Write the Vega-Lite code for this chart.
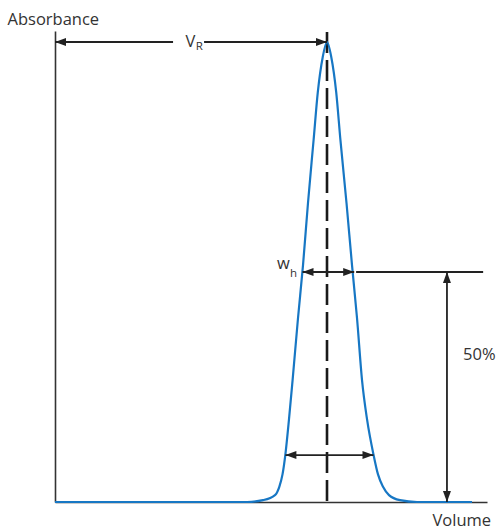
{
  "$schema": "https://vega.github.io/schema/vega-lite/v6.json",
  "width": 432,
  "height": 471,
  "autosize": {"type": "none"},
  "padding": {"left": 55, "top": 31, "right": 13, "bottom": 27},
  "background": "white",
  "config": {
    "view": {"stroke": null},
    "font": "Open Sans",
    "text": {"font": "Open Sans", "color": "#333333"}
  },
  "encoding": {
    "x": {
      "field": "volume", "type": "quantitative",
      "scale": {"domain": [0, 158.82], "nice": false, "zero": false},
      "axis": {
        "title": "Volume", "domain": true, "domainColor": "#333333", "domainWidth": 1.6,
        "ticks": false, "labels": false, "grid": false,
        "titleX": 377, "titleY": 23, "titleAlign": "left", "titleBaseline": "alphabetic",
        "titleFont": "Open Sans", "titleFontSize": 16.5, "titleFontWeight": "normal", "titleColor": "#333333"
      }
    },
    "y": {
      "field": "absorbance", "type": "quantitative",
      "scale": {"domain": [0, 1.0239], "nice": false, "zero": false},
      "axis": {
        "title": "Absorbance", "domain": true, "domainColor": "#333333", "domainWidth": 1.6,
        "ticks": false, "labels": false, "grid": false,
        "titleAngle": 0, "titleX": -48, "titleY": -7, "titleAlign": "left", "titleBaseline": "alphabetic",
        "titleFont": "Open Sans", "titleFontSize": 16.5, "titleFontWeight": "normal", "titleColor": "#333333"
      }
    }
  },
  "layer": [
    {
      "data": {"values": [
        {"volume": 100, "absorbance": 1.0217, "volume2": 100, "absorbance2": 0}
      ]},
      "mark": {"type": "rule", "color": "#1a1a1a", "strokeWidth": 2.6, "strokeDash": [21, 7]},
      "encoding": {
        "x2": {"field": "volume2"},
        "y2": {"field": "absorbance2"}
      }
    },
    {
      "data": {"values": [
        {"volume": 0, "absorbance": 0},
        {"volume": 70.59, "absorbance": 0},
        {"volume": 76.47, "absorbance": 0.004},
        {"volume": 80.88, "absorbance": 0.015},
        {"volume": 82.46, "absorbance": 0.033},
        {"volume": 83.64, "absorbance": 0.06},
        {"volume": 84.67, "absorbance": 0.102},
        {"volume": 86.03, "absorbance": 0.18},
        {"volume": 87.35, "absorbance": 0.265},
        {"volume": 89.34, "absorbance": 0.4},
        {"volume": 91.18, "absorbance": 0.515},
        {"volume": 93.01, "absorbance": 0.65},
        {"volume": 95.07, "absorbance": 0.787},
        {"volume": 96.62, "absorbance": 0.891},
        {"volume": 98.42, "absorbance": 0.967},
        {"volume": 100, "absorbance": 1.0},
        {"volume": 101.58, "absorbance": 0.967},
        {"volume": 103.38, "absorbance": 0.891},
        {"volume": 104.93, "absorbance": 0.787},
        {"volume": 107.17, "absorbance": 0.65},
        {"volume": 109.19, "absorbance": 0.515},
        {"volume": 111.03, "absorbance": 0.4},
        {"volume": 112.87, "absorbance": 0.265},
        {"volume": 114.71, "absorbance": 0.18},
        {"volume": 117.13, "absorbance": 0.102},
        {"volume": 118.75, "absorbance": 0.06},
        {"volume": 120.59, "absorbance": 0.033},
        {"volume": 122.79, "absorbance": 0.015},
        {"volume": 126.84, "absorbance": 0.004},
        {"volume": 133.09, "absorbance": 0},
        {"volume": 153.3, "absorbance": 0}
      ]},
      "mark": {"type": "line", "color": "#1777c4", "strokeWidth": 2.2, "interpolate": "monotone"}
    },
    {
      "data": {"values": [
        {"volume": 0, "absorbance": 1.0, "volume2": 43.4, "absorbance2": 1.0},
        {"volume": 54.8, "absorbance": 1.0, "volume2": 100, "absorbance2": 1.0},
        {"volume": 91.0, "absorbance": 0.5, "volume2": 110.0, "absorbance2": 0.5},
        {"volume": 110.7, "absorbance": 0.5, "volume2": 157.4, "absorbance2": 0.5},
        {"volume": 144.1, "absorbance": 0.5, "volume2": 144.1, "absorbance2": 0},
        {"volume": 84.7, "absorbance": 0.102, "volume2": 117.1, "absorbance2": 0.102}
      ]},
      "mark": {"type": "rule", "color": "#222222", "strokeWidth": 1.8},
      "encoding": {
        "x2": {"field": "volume2"},
        "y2": {"field": "absorbance2"}
      }
    },
    {
      "data": {"values": [
        {"volume": 0, "absorbance": 1.0, "dir": "left"},
        {"volume": 100, "absorbance": 1.0, "dir": "right"},
        {"volume": 91.0, "absorbance": 0.5, "dir": "left"},
        {"volume": 110.0, "absorbance": 0.5, "dir": "right"},
        {"volume": 144.1, "absorbance": 0.5, "dir": "up"},
        {"volume": 144.1, "absorbance": 0, "dir": "down"},
        {"volume": 84.7, "absorbance": 0.102, "dir": "left"},
        {"volume": 117.1, "absorbance": 0.102, "dir": "right"}
      ]},
      "mark": {"type": "point", "filled": true, "opacity": 1, "color": "#222222", "size": 100, "strokeWidth": 0},
      "encoding": {
        "shape": {
          "field": "dir", "type": "nominal", "legend": null,
          "scale": {
            "domain": ["left", "right", "up", "down"],
            "range": ["M0,0L2.2,-0.8L2.2,0.8Z", "M0,0L-2.2,-0.8L-2.2,0.8Z", "M0,0L-0.8,2.2L0.8,2.2Z", "M0,0L-0.8,-2.2L0.8,-2.2Z"]
          }
        }
      }
    },
    {
      "data": {"values": [
        {"volume": 51.6, "absorbance": 0.989, "label": "V"},
        {"volume": 86.3, "absorbance": 0.5065, "label": "w"}
      ]},
      "mark": {"type": "text", "fontSize": 16.5, "align": "right", "baseline": "alphabetic"},
      "encoding": {"text": {"field": "label"}}
    },
    {
      "data": {"values": [
        {"volume": 150.0, "absorbance": 0.3087, "label": "50%"}
      ]},
      "mark": {"type": "text", "fontSize": 16.5, "align": "left", "baseline": "alphabetic"},
      "encoding": {"text": {"field": "label"}}
    },
    {
      "data": {"values": [
        {"volume": 51.7, "absorbance": 0.983, "label": "R"},
        {"volume": 86.4, "absorbance": 0.489, "label": "h"}
      ]},
      "mark": {"type": "text", "fontSize": 11.5, "align": "left", "baseline": "alphabetic"},
      "encoding": {"text": {"field": "label"}}
    }
  ]
}
